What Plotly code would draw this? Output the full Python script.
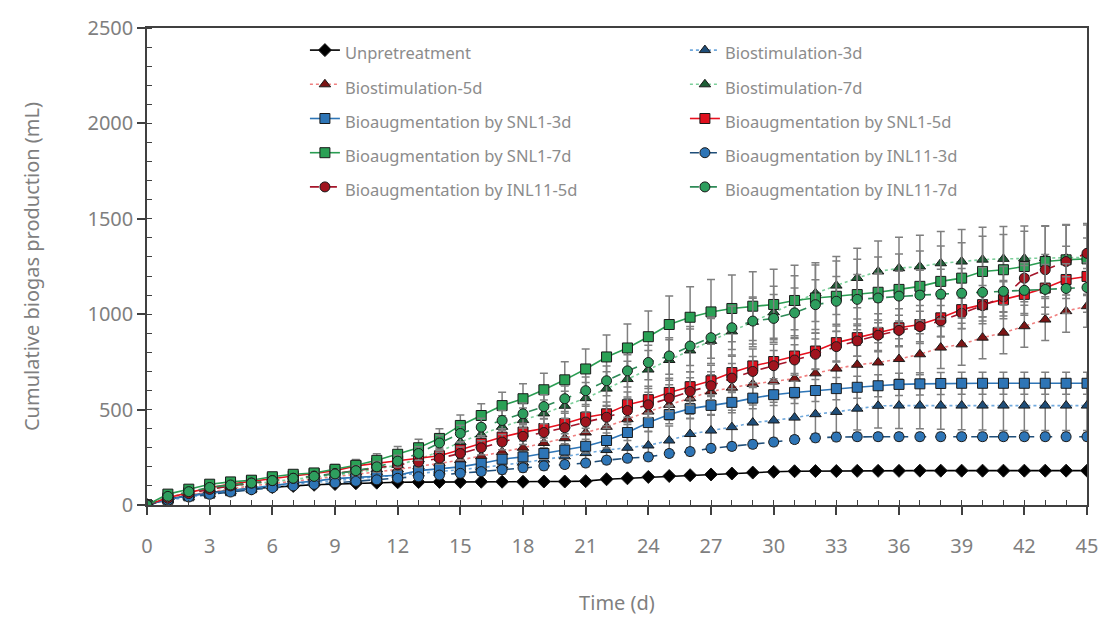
import plotly.graph_objects as go

days = list(range(46))

unpre = [0,30,50,65,77,86,94,100,106,110,114,117,119,120,121,121,122,122,122,123,123,125,135,140,147,152,156,160,165,170,174,177,178,178,179,179,179,180,180,180,180,180,180,180,180,180]
bio3 = [0,25,42,58,72,85,97,108,118,128,137,146,155,165,175,185,196,208,222,238,255,272,288,300,312,338,372,390,408,432,443,458,476,488,505,520,521,521,521,521,521,521,521,521,521,521]
bio5 = [0,30,52,70,85,100,112,124,135,147,160,173,187,202,218,236,256,278,300,325,350,380,410,450,490,525,560,595,615,634,648,662,690,715,735,747,765,790,825,842,877,903,937,972,1016,1042]
bio7 = [0,40,65,85,98,110,122,133,143,155,170,188,210,240,280,330,370,410,445,480,520,560,610,660,710,760,810,860,910,960,1010,1060,1110,1150,1190,1224,1241,1250,1267,1276,1286,1290,1292,1294,1296,1298]
snl3 = [0,30,48,62,75,90,104,115,125,138,145,150,156,180,190,200,218,240,252,270,288,308,338,380,432,474,505,522,538,560,578,590,600,610,617,625,632,635,637,638,638,638,638,638,638,638]
snl5 = [0,38,65,90,110,125,140,152,165,180,205,220,232,245,258,290,323,356,382,401,427,460,478,526,552,590,620,651,694,729,752,781,807,851,877,903,929,946,981,1024,1050,1076,1104,1137,1182,1198]
snl7 = [0,57,83,109,121,130,148,161,168,187,208,234,266,300,349,417,469,521,557,604,656,713,776,823,882,946,984,1012,1030,1042,1051,1072,1085,1094,1103,1115,1130,1146,1172,1189,1224,1233,1250,1276,1285,1290]
inl3 = [0,25,42,56,68,80,90,100,108,116,124,132,140,148,157,166,175,185,195,205,212,220,235,245,252,270,280,297,307,318,330,343,352,356,358,358,358,358,358,358,358,358,358,358,358,358]
inl5 = [0,35,60,82,100,115,128,140,152,165,180,195,210,225,245,270,300,330,360,380,405,435,460,495,525,560,595,625,665,700,730,760,790,830,860,890,915,935,965,1005,1045,1090,1189,1233,1276,1319]
inl7 = [0,45,70,92,105,115,128,140,150,163,180,200,230,270,325,375,408,443,478,516,557,599,651,703,747,781,833,877,929,964,978,1007,1050,1068,1078,1085,1095,1100,1105,1110,1115,1120,1125,1130,1135,1140]

e_unpre = [0,3,4,5,5,5,6,6,6,6,6,6,6,6,6,6,6,6,6,6,6,6,7,7,7,7,7,8,8,8,8,8,8,8,8,8,8,8,8,8,8,8,8,8,8,8]
e_bio3 = [0,5,8,10,12,14,16,18,20,22,24,26,28,30,33,36,40,44,48,52,56,60,64,68,72,76,80,84,88,92,96,100,104,108,112,116,120,122,124,126,128,130,130,130,130,130]
e_bio5 = [0,5,8,10,12,14,16,18,20,22,25,28,31,34,37,40,44,48,52,56,60,64,68,72,76,80,84,88,90,92,94,96,98,100,102,104,106,108,110,110,110,110,110,110,110,110]
e_bio7 = [0,6,9,12,14,16,18,20,22,25,28,31,35,39,43,48,53,58,64,70,76,82,88,94,100,106,112,118,124,130,136,142,148,152,156,160,162,164,166,168,170,170,170,170,170,170]
e_snl3 = [0,4,6,8,9,10,11,12,13,14,15,16,17,18,20,22,24,26,28,30,33,36,39,42,45,48,50,52,54,56,57,58,58,58,58,58,58,58,58,58,58,58,58,58,58,58]
e_snl5 = [0,5,7,9,11,13,15,17,19,21,23,25,28,31,34,37,40,43,46,50,54,58,62,66,70,74,78,82,85,88,90,92,94,96,98,100,100,100,100,100,100,100,100,100,100,100]
e_snl7 = [0,8,10,12,14,16,18,20,22,25,30,35,40,45,50,55,62,70,78,86,95,105,115,125,135,150,160,170,175,180,185,185,185,185,185,185,185,185,185,185,185,185,185,185,185,185]
e_inl3 = [0,3,5,6,7,8,9,10,11,12,13,14,15,16,17,18,19,20,20,20,20,20,20,20,20,20,20,20,20,20,20,20,20,20,20,20,20,20,20,20,20,20,20,20,20,20]
e_inl5 = [0,4,6,8,10,12,14,16,18,20,22,24,26,28,31,34,37,40,43,46,50,54,58,62,66,70,72,74,76,78,80,80,80,80,80,80,80,80,80,80,80,80,80,80,80,80]
e_inl7 = [0,6,8,10,12,14,16,18,20,22,25,28,31,35,39,43,47,52,57,62,67,72,78,84,90,96,102,108,114,120,125,130,130,130,130,130,130,130,130,130,130,130,130,130,130,130]

names = [
    "Unpretreatment", "Biostimulation-3d",
    "Biostimulation-5d", "Biostimulation-7d",
    "Bioaugmentation by SNL1-3d", "Bioaugmentation by SNL1-5d",
    "Bioaugmentation by SNL1-7d", "Bioaugmentation by INL11-3d",
    "Bioaugmentation by INL11-5d", "Bioaugmentation by INL11-7d",
]
values = [unpre, bio3, bio5, bio7, snl3, snl5, snl7, inl3, inl5, inl7]
errors = [e_unpre, e_bio3, e_bio5, e_bio7, e_snl3, e_snl5, e_snl7, e_inl3, e_inl5, e_inl7]
line_colors = ["#000000", "#6fa8dc", "#f08080", "#7ccf9a", "#2e75b6", "#e8101e", "#2a9d52", "#1f4e79", "#a5152a", "#2e8b57"]
marker_colors = ["#000000", "#1f4e79", "#7b1515", "#1e5e36", "#2e75b6", "#e0101e", "#2aa155", "#2e75b6", "#a0141e", "#2e9e5e"]
dashes = ["solid", "dot", "dot", "dot", "solid", "solid", "solid", "dash", "dash", "dash"]
symbols = ["diamond", "triangle-up", "triangle-up", "triangle-up", "square", "square", "square", "circle", "circle", "circle"]

fig = go.Figure()
for name, v, e, lc, mc, d, s in zip(names, values, errors, line_colors, marker_colors, dashes, symbols):
    fig.add_trace(go.Scatter(
        x=days, y=v, name="<span style='font-size:16.5px'>" + name + "</span>",
        mode="lines+markers",
        line=dict(color=lc, width=1.6, dash=d),
        marker=dict(symbol=s, size=10, color=mc, line=dict(color="#1a1a1a", width=1)),
        error_y=dict(type="data", array=e, visible=True, color="#7f7f7f", thickness=1.5, width=4),
    ))

axis_font = dict(family="Noto Sans", size=20, color="#7f7f7f")
fig.update_layout(
    width=1109, height=622,
    margin=dict(l=147, r=22, t=28, b=117),
    paper_bgcolor="white", plot_bgcolor="white",
    font=dict(family="Noto Sans", color="#7f7f7f"),
    showlegend=True,
    legend=dict(
        orientation="h", x=0.168, y=1.0, xanchor="left", yanchor="top",
        entrywidth=335, font=dict(family="Noto Sans", size=24, color="#8c8c8c"),
        bgcolor="rgba(0,0,0,0)", itemwidth=30,
    ),
    xaxis=dict(
        range=[0, 45], tickmode="array", tickvals=list(range(0, 46, 3)),
        title=dict(text="Time (d)", font=axis_font, standoff=38),
        tickfont=axis_font, showgrid=False, zeroline=False, automargin=False,
        showline=True, linecolor="#404040", linewidth=1.5, mirror=True,
        ticks="outside", ticklen=8, tickcolor="#404040", tickwidth=1.5,
        ticklabelstandoff=14,
        minor=dict(dtick=1, ticks="inside", ticklen=5, tickcolor="#404040", tickwidth=1, showgrid=False),
    ),
    yaxis=dict(
        range=[0, 2500], tickmode="array", tickvals=[0, 500, 1000, 1500, 2000, 2500],
        title=dict(text="Cumulative biogas production (mL)", font=axis_font, standoff=42),
        tickfont=axis_font, showgrid=False, zeroline=False,
        showline=True, linecolor="#404040", linewidth=1.5, mirror=True,
        ticks="outside", ticklen=8, tickcolor="#404040", tickwidth=1.5,
        minor=dict(dtick=100, ticks="inside", ticklen=5, tickcolor="#404040", tickwidth=1, showgrid=False),
    ),
)

fig.write_html("out.html")
